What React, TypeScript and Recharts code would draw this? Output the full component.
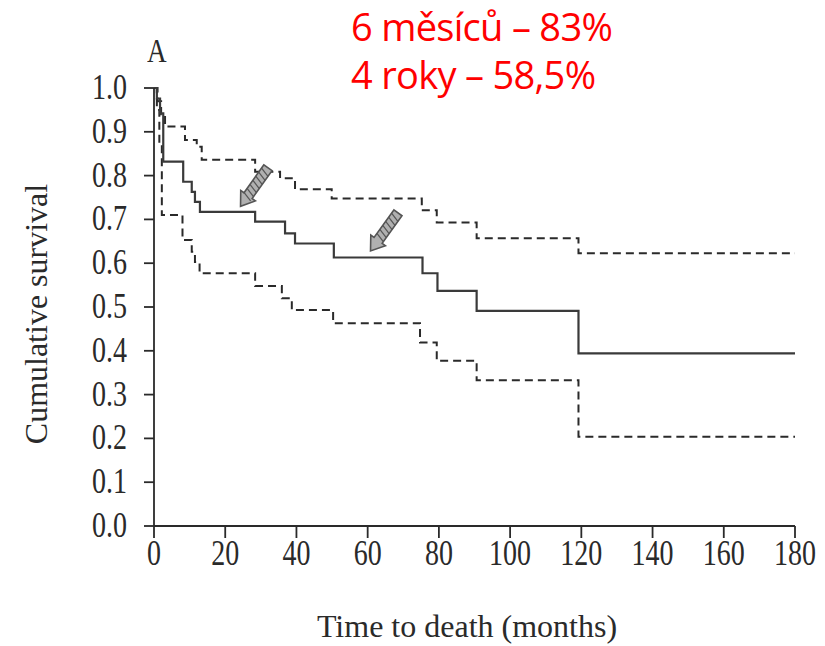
import React from "react";
import {
  LineChart,
  Line,
  XAxis,
  YAxis,
  ReferenceLine,
  Label,
} from "recharts";

// Kaplan-Meier estimate (time in months, cumulative survival)
const survival = [
  { t: 0, s: 1.0 },
  { t: 0.8, s: 0.976 },
  { t: 1.7, s: 0.942 },
  { t: 2.6, s: 0.832 },
  { t: 8.2, s: 0.786 },
  { t: 10.6, s: 0.763 },
  { t: 11.5, s: 0.74 },
  { t: 12.9, s: 0.717 },
  { t: 28.4, s: 0.695 },
  { t: 36.8, s: 0.668 },
  { t: 39.6, s: 0.645 },
  { t: 50.5, s: 0.613 },
  { t: 75.4, s: 0.577 },
  { t: 79.6, s: 0.537 },
  { t: 90.6, s: 0.491 },
  { t: 119.2, s: 0.394 },
  { t: 180, s: 0.394 },
];

const upperCI = [
  { t: 0, s: 1.0 },
  { t: 1.0, s: 0.97 },
  { t: 2.0, s: 0.94 },
  { t: 3.1, s: 0.912 },
  { t: 8.7, s: 0.881 },
  { t: 12.0, s: 0.866 },
  { t: 13.4, s: 0.836 },
  { t: 28.4, s: 0.809 },
  { t: 35.4, s: 0.794 },
  { t: 39.6, s: 0.769 },
  { t: 49.9, s: 0.748 },
  { t: 75.2, s: 0.721 },
  { t: 79.4, s: 0.693 },
  { t: 90.6, s: 0.657 },
  { t: 119.2, s: 0.623 },
  { t: 180, s: 0.623 },
];

const lowerCI = [
  { t: 0, s: 1.0 },
  { t: 0.8, s: 0.95 },
  { t: 1.5, s: 0.87 },
  { t: 2.2, s: 0.71 },
  { t: 8.0, s: 0.653 },
  { t: 10.6, s: 0.626 },
  { t: 11.5, s: 0.603 },
  { t: 12.8, s: 0.577 },
  { t: 28.4, s: 0.548 },
  { t: 35.9, s: 0.52 },
  { t: 38.7, s: 0.493 },
  { t: 50.3, s: 0.463 },
  { t: 74.7, s: 0.419 },
  { t: 79.4, s: 0.377 },
  { t: 90.6, s: 0.333 },
  { t: 119.2, s: 0.204 },
  { t: 180, s: 0.204 },
];

const xTicks = [0, 20, 40, 60, 80, 100, 120, 140, 160, 180];
const yTicks = [0, 0.1, 0.2, 0.3, 0.4, 0.5, 0.6, 0.7, 0.8, 0.9, 1.0];

// arrows: tail -> tip, in data coordinates
const arrows = [
  [{ x: 32, y: 0.818 }, { x: 24.3, y: 0.73 }],
  [{ x: 68.5, y: 0.715 }, { x: 60.8, y: 0.628 }],
];

const notes = ["6 měsíců – 83%", "4 roky – 58,5%"];

const serif = "'Liberation Serif', 'Times New Roman', serif";
const ink = "#2a2a2a";
const squeeze = 0.8;

function XTick(props: any) {
  const { x, y, payload } = props;
  return (
    <text
      transform={`translate(${x},${y + 27}) scale(${squeeze},1)`}
      textAnchor="middle"
      fontFamily={serif}
      fontSize={35}
      fill={ink}
    >
      {payload.value}
    </text>
  );
}

function YTick(props: any) {
  const { x, y, payload } = props;
  return (
    <text
      transform={`translate(${x - 17},${y + 11}) scale(${squeeze},1)`}
      textAnchor="end"
      fontFamily={serif}
      fontSize={35}
      fill={ink}
    >
      {Number(payload.value).toFixed(1)}
    </text>
  );
}

function Arrow(props: any) {
  const { x1, y1, x2, y2 } = props;
  const dx = x2 - x1;
  const dy = y2 - y1;
  const len = Math.sqrt(dx * dx + dy * dy);
  const ux = dx / len;
  const uy = dy / len;
  const px = -uy;
  const py = ux;
  const head = 13;
  const hw = 9;
  const w = 5;
  const bx = x2 - ux * head;
  const by = y2 - uy * head;
  const pts = [
    [x1 + px * w, y1 + py * w],
    [bx + px * w, by + py * w],
    [bx + px * hw, by + py * hw],
    [x2, y2],
    [bx - px * hw, by - py * hw],
    [bx - px * w, by - py * w],
    [x1 - px * w, y1 - py * w],
  ]
    .map((p) => p.join(","))
    .join(" ");
  const hatches = [];
  for (let d = 4; d < len - head; d += 5) {
    const cx = x1 + ux * d;
    const cy = y1 + uy * d;
    hatches.push(
      <line
        key={d}
        x1={cx + px * w}
        y1={cy + py * w}
        x2={cx - px * w + ux * 3}
        y2={cy - py * w + uy * 3}
        stroke="#555"
        strokeWidth={1.2}
      />
    );
  }
  return (
    <g>
      <polygon points={pts} fill="#b0b0b0" stroke="#555" strokeWidth={1.6} />
      {hatches}
    </g>
  );
}

export default function App() {
  return (
    <div
      style={{
        position: "absolute",
        left: 0,
        top: 0,
        width: 825,
        height: 646,
        background: "white",
      }}
    >
      <div
        style={{
          position: "absolute",
          left: 351,
          top: 2,
          color: "#ff0000",
          fontFamily: "'Open Sans', 'Noto Sans', sans-serif",
          fontSize: 38,
          lineHeight: "48px",
          letterSpacing: -0.7,
          whiteSpace: "nowrap",
        }}
      >
        {notes.map((n) => (
          <div key={n}>{n}</div>
        ))}
      </div>
      <div
        style={{
          position: "absolute",
          left: 147,
          top: 34,
          fontFamily: serif,
          fontSize: 34,
          lineHeight: "33px",
          color: ink,
          transform: `scaleX(${squeeze})`,
          transformOrigin: "left top",
        }}
      >
        A
      </div>
      <LineChart
        width={825}
        height={646}
        margin={{ top: 88, right: 30, bottom: 0, left: 94 }}
        style={{ position: "absolute", left: 0, top: 0 }}
      >
        <XAxis
          type="number"
          dataKey="t"
          domain={[0, 180]}
          ticks={xTicks}
          interval={0}
          height={120}
          tickSize={12}
          tickMargin={0}
          stroke={ink}
          strokeWidth={1.8}
          tick={<XTick />}
          allowDataOverflow
        >
          <Label
            content={() => (
              <text
                x={467}
                y={637}
                textAnchor="middle"
                fontFamily={serif}
                fontSize={32}
                fill={ink}
              >
                Time to death (months)
              </text>
            )}
          />
        </XAxis>
        <YAxis
          type="number"
          domain={[0, 1]}
          ticks={yTicks}
          interval={0}
          width={60}
          tickSize={10}
          tickMargin={0}
          stroke={ink}
          strokeWidth={1.8}
          tick={<YTick />}
        >
          <Label
            content={() => (
              <text
                x={47}
                y={314}
                transform="rotate(-90 47 314)"
                textAnchor="middle"
                fontFamily={serif}
                fontSize={32}
                fill={ink}
              >
                Cumulative survival
              </text>
            )}
          />
        </YAxis>
        <Line
          data={upperCI}
          dataKey="s"
          type="stepAfter"
          stroke={ink}
          strokeWidth={2}
          strokeDasharray="8 5"
          dot={false}
          isAnimationActive={false}
        />
        <Line
          data={lowerCI}
          dataKey="s"
          type="stepAfter"
          stroke={ink}
          strokeWidth={2}
          strokeDasharray="8 5"
          dot={false}
          isAnimationActive={false}
        />
        <Line
          data={survival}
          dataKey="s"
          type="stepAfter"
          stroke="#3a3a3a"
          strokeWidth={2.2}
          dot={false}
          isAnimationActive={false}
        />
        {arrows.map((a, i) => (
          <ReferenceLine
            key={i}
            segment={a}
            shape={(p: any) => <Arrow {...p} />}
            ifOverflow="visible"
          />
        ))}
      </LineChart>
    </div>
  );
}
